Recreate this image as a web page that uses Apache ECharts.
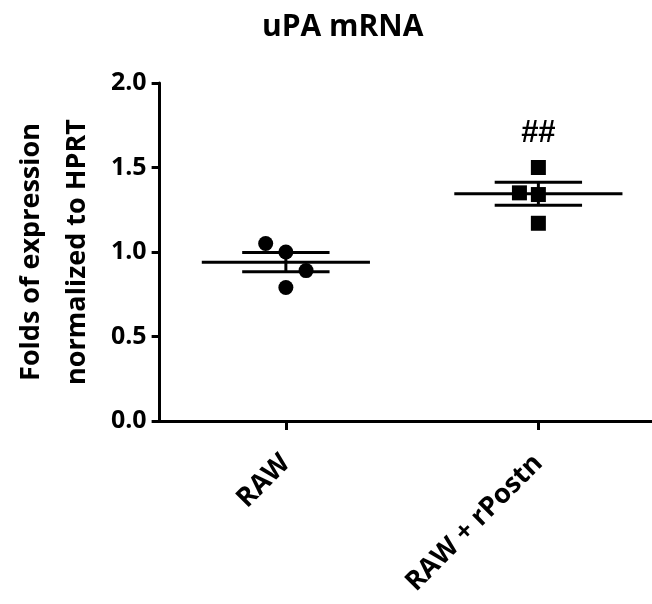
<!DOCTYPE html>
<html>
<head>
<meta charset="utf-8">
<script src="https://cdn.jsdelivr.net/npm/echarts@6/dist/echarts.min.js"></script>
<style>html,body{margin:0;padding:0;background:#fff}#c{width:652px;height:604px}</style>
</head>
<body>
<div id="c"></div>
<script>
// ---- data ----
var categories = ['RAW', 'RAW + rPostn'];
var groupX = [1, 2];
var rawValues = [1.05, 1.00, 0.89, 0.79];
var rawJitter = [-0.08, 0, 0.08, 0];
var rpostnValues = [1.50, 1.35, 1.34, 1.17];
var rpostnJitter = [0, -0.075, 0, 0];
var means = [0.94, 1.345];
var sems = [0.057, 0.068];
var yTicks = [0, 0.5, 1.0, 1.5, 2.0];
var annotations = [{ x: 2, y: 1.70, text: '##' }];

var FONT = 'Open Sans';

function pts(vals, jit, gx) {
  return vals.map(function (v, i) { return [gx + jit[i], v]; });
}

var summary = groupX.map(function (gx, i) { return [gx, means[i], sems[i]]; });

var chart = echarts.init(document.getElementById('c'), null, { renderer: 'canvas' });
chart.setOption({
  backgroundColor: '#fff',
  animation: false,
  title: {
    text: 'uPA mRNA', left: 257, top: 7,
    textStyle: { fontFamily: FONT, fontWeight: 'bold', fontSize: 30, color: '#000' }
  },
  grid: { left: 155, right: 0, top: 83, bottom: 183, containLabel: false },
  xAxis: {
    type: 'value', min: 0.5, max: 2.45,
    axisLine: { show: true, lineStyle: { color: '#000', width: 3 } },
    axisTick: { show: true, customValues: groupX, length: 9, lineStyle: { color: '#000', width: 3 } },
    axisLabel: {
      customValues: groupX, rotate: 45, margin: 38,
      formatter: function (v) { return categories[groupX.indexOf(v)] || ''; },
      fontFamily: FONT, fontWeight: 'bold', fontSize: 27, color: '#000'
    },
    splitLine: { show: false }
  },
  yAxis: {
    type: 'value', min: yTicks[0], max: yTicks[yTicks.length - 1], interval: 0.5,
    name: 'Folds of expression\nnormalized to HPRT',
    nameLocation: 'middle', nameRotate: 90, nameGap: 48,
    nameTextStyle: { fontFamily: FONT, fontWeight: 'bold', fontSize: 27, color: '#000', lineHeight: 46 },
    axisLine: { show: true, lineStyle: { color: '#000', width: 3 } },
    axisTick: { show: true, length: 8, lineStyle: { color: '#000', width: 3 } },
    axisLabel: {
      margin: 13, formatter: function (v) { return v.toFixed(1); },
      fontFamily: FONT, fontWeight: 'bold', fontSize: 25, color: '#000'
    },
    splitLine: { show: false }
  },
  series: [
    {
      type: 'custom', data: summary, z: 3,
      renderItem: function (params, api) {
        var gx = api.value(0), m = api.value(1), s = api.value(2);
        var mL = api.coord([gx - 0.333, m]), mR = api.coord([gx + 0.333, m]);
        var tL = api.coord([gx - 0.173, m + s]), tR = api.coord([gx + 0.173, m + s]);
        var bL = api.coord([gx - 0.173, m - s]), bR = api.coord([gx + 0.173, m - s]);
        var c1 = api.coord([gx, m + s]), c2 = api.coord([gx, m - s]);
        var st = { stroke: '#000', lineWidth: 3 };
        return {
          type: 'group', children: [
            { type: 'line', shape: { x1: mL[0], y1: mL[1], x2: mR[0], y2: mR[1] }, style: st },
            { type: 'line', shape: { x1: tL[0], y1: tL[1], x2: tR[0], y2: tR[1] }, style: st },
            { type: 'line', shape: { x1: bL[0], y1: bL[1], x2: bR[0], y2: bR[1] }, style: st },
            { type: 'line', shape: { x1: c1[0], y1: c1[1], x2: c2[0], y2: c2[1] }, style: st }
          ]
        };
      }
    },
    {
      type: 'scatter', symbol: 'circle', symbolSize: 15, z: 4,
      itemStyle: { color: '#000', opacity: 1 }, data: pts(rawValues, rawJitter, groupX[0])
    },
    {
      type: 'scatter', symbol: 'rect', symbolSize: 15, z: 4,
      itemStyle: { color: '#000', opacity: 1 }, data: pts(rpostnValues, rpostnJitter, groupX[1])
    },
    {
      type: 'scatter', symbol: 'circle', symbolSize: 2, z: 5,
      itemStyle: { color: 'rgba(0,0,0,0)' },
      data: annotations.map(function (a) { return { value: [a.x, a.y], name: a.text }; }),
      label: {
        show: true, position: 'inside', formatter: '{b}', opacity: 1,
        fontFamily: 'Liberation Sans', fontWeight: 'bold', fontSize: 31, color: '#000'
      }
    }
  ]
});
</script>
</body>
</html>
